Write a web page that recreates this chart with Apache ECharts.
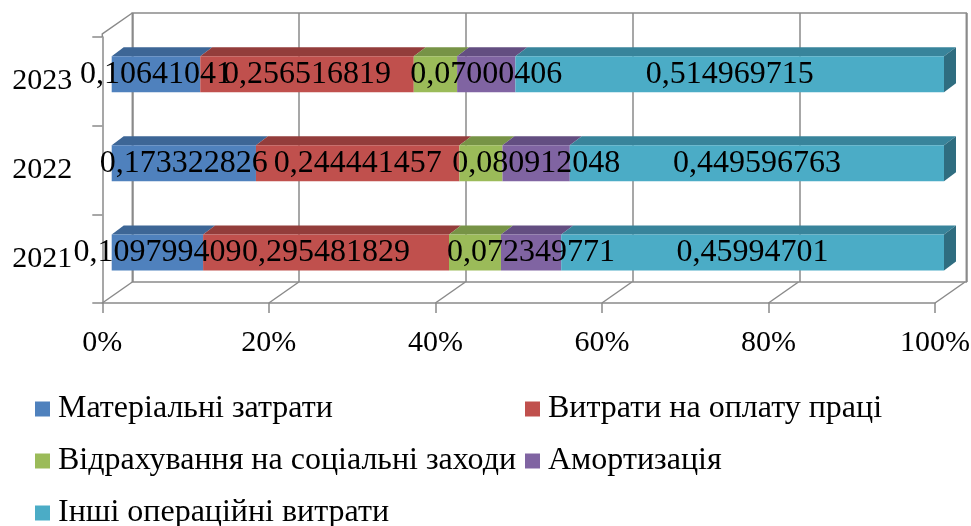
<!DOCTYPE html>
<html>
<head>
<meta charset="utf-8">
<script src="https://cdn.jsdelivr.net/npm/echarts@6/dist/echarts.min.js"></script>
<style>
  html, body { margin: 0; padding: 0; background: #ffffff; }
  #chart { width: 971px; height: 526px; }
</style>
</head>
<body>
<div id="chart"></div>
<script>
// Cost structure by year (shares of total operating costs)
const years = ['2021', '2022', '2023'];
const seriesNames = [
  'Матеріальні затрати',
  'Витрати на оплату праці',
  'Відрахування на соціальні заходи',
  'Амортизація',
  'Інші операційні витрати'
];
const materialCosts = [0.109799409, 0.173322826, 0.10641041];
const labourCosts = [0.295481829, 0.244441457, 0.256516819];
const socialContributions = [0.062421981, 0.051726906, 0.052098996];
const depreciation = [0.072349771, 0.080912048, 0.07000406];
const otherCosts = [0.45994701, 0.449596763, 0.514969715];
const tickLabels = ['0%', '20%', '40%', '60%', '80%', '100%'];
const tickValues = [0, 0.2, 0.4, 0.6, 0.8, 1];

const seriesValues = [materialCosts, labourCosts, socialContributions, depreciation, otherCosts];
const showLabel = [true, true, false, true, true];

const frontColors = ['#4F81BD', '#C0504D', '#9BBB59', '#8064A2', '#4BACC6'];
const topColors = ['#3D6696', '#933D3B', '#779346', '#634E81', '#38849B'];
const sideColor = '#2F6D80';
const lineColor = '#8A8A8A';
const FONT = 'Liberation Serif';

const BAR_W = 36;             // bar front face thickness
const BAR_DEPTH = [12, -9];   // bar top face offset
const ROOM_DEPTH = [30, -21]; // floor/back wall offset

// Stacked segments (start, end, category, segment) for the 3D top faces
const segments = [];
years.forEach((y, i) => {
  let acc = 0;
  seriesValues.forEach((arr, s) => {
    segments.push([acc, acc + arr[i], i, s]);
    acc += arr[i];
  });
});

const chart = echarts.init(document.getElementById('chart'), null, { renderer: 'canvas' });

const fmt = v => String(v).replace('.', ',');

const barSeries = seriesNames.map((name, s) => ({
  name: name,
  type: 'bar',
  stack: 'total',
  xAxisIndex: 2,
  yAxisIndex: 2,
  barWidth: BAR_W,
  itemStyle: { color: frontColors[s] },
  label: {
    show: showLabel[s],
    position: 'inside',
    formatter: p => fmt(p.value),
    color: '#000',
    fontFamily: FONT,
    fontSize: 32,
    textBorderWidth: 0
  },
  emphasis: { disabled: true },
  z: 3,
  data: seriesValues[s]
}));

const legendBase = {
  orient: 'vertical', top: 393, padding: 0,
  icon: 'rect', itemWidth: 15, itemHeight: 15, itemGap: 20,
  selectedMode: false,
  textStyle: { color: '#000', fontFamily: FONT, fontSize: 32, lineHeight: 32, padding: [0, 0, 0, 3] }
};

const option = {
  backgroundColor: '#ffffff',
  animation: false,
  grid: [
    // front plane of the floor (axes and labels)
    { left: 102.3, top: 37, width: 832.7, height: 266, outerBoundsMode: 'none' },
    // back wall
    { left: 132.3, top: 13, width: 834, height: 269, show: true,
      borderColor: lineColor, borderWidth: 1.5, backgroundColor: 'transparent', outerBoundsMode: 'none' },
    // plane of the bar front faces
    { left: 111.7, top: 29.6, width: 832.3, height: 267.5, outerBoundsMode: 'none' }
  ],
  xAxis: [
    {
      gridIndex: 0, type: 'value', min: 0, max: 1, interval: 0.2,
      axisLine: { show: true, lineStyle: { color: lineColor, width: 1.5 } },
      axisTick: { show: true, length: 10, lineStyle: { color: lineColor, width: 1.5 } },
      axisLabel: {
        margin: 25, color: '#000', fontFamily: FONT, fontSize: 30,
        formatter: v => tickLabels[Math.round(v / 0.2)]
      },
      splitLine: { show: false }
    },
    {
      gridIndex: 1, type: 'value', min: 0, max: 1, interval: 0.2,
      axisLine: { show: false }, axisTick: { show: false }, axisLabel: { show: false },
      splitLine: { show: true, lineStyle: { color: lineColor, width: 1.5 } }
    },
    {
      gridIndex: 2, type: 'value', min: 0, max: 1, show: false
    }
  ],
  yAxis: [
    {
      gridIndex: 0, type: 'category', data: years,
      axisLine: { show: true, lineStyle: { color: lineColor, width: 1.5 } },
      axisTick: { show: true, length: 10, lineStyle: { color: lineColor, width: 1.5 } },
      axisLabel: { margin: 30, color: '#000', fontFamily: FONT, fontSize: 30 }
    },
    { gridIndex: 1, type: 'category', data: years, show: false },
    { gridIndex: 2, type: 'category', data: years, show: false }
  ],
  legend: [
    Object.assign({}, legendBase, {
      data: [seriesNames[0], seriesNames[2], seriesNames[4]],
      left: 35, height: 140
    }),
    Object.assign({}, legendBase, {
      data: [seriesNames[1], seriesNames[3]],
      left: 525, height: 140
    })
  ],
  series: [
    // floor diagonals and the top edge of the side wall
    {
      type: 'custom',
      xAxisIndex: 0,
      yAxisIndex: 0,
      silent: true,
      z: 1,
      data: tickValues.map(v => [v, 0]),
      renderItem: (params, api) => {
        const v = api.value(0);
        const x = api.coord([v, 0])[0];
        const cs = params.coordSys;
        const yb = cs.y + cs.height;
        const children = [{
          type: 'line',
          shape: { x1: x, y1: yb, x2: x + ROOM_DEPTH[0], y2: yb + ROOM_DEPTH[1] },
          style: { stroke: lineColor, lineWidth: 1.5 }
        }];
        if (params.dataIndex === 0) {
          children.push({
            type: 'polyline',
            shape: { points: [[x, cs.y], [x, cs.y - 3], [x + ROOM_DEPTH[0], cs.y - 3 + ROOM_DEPTH[1]]] },
            style: { stroke: lineColor, lineWidth: 1.5, fill: null }
          });
        }
        return { type: 'group', children };
      }
    },
    ...barSeries,
    // top faces of the bar segments and the right end face
    {
      type: 'custom',
      xAxisIndex: 2,
      yAxisIndex: 2,
      silent: true,
      z: 2,
      encode: { x: [0, 1], y: 2 },
      data: segments,
      renderItem: (params, api) => {
        const s0 = api.value(0), s1 = api.value(1), cat = api.value(2), seg = api.value(3);
        const a = api.coord([s0, cat]);
        const b = api.coord([s1, cat]);
        const yT = a[1] - BAR_W / 2;
        const yB = a[1] + BAR_W / 2;
        const [dx, dy] = BAR_DEPTH;
        const children = [{
          type: 'polygon',
          shape: { points: [[a[0], yT], [b[0], yT], [b[0] + dx, yT + dy], [a[0] + dx, yT + dy]] },
          style: { fill: topColors[seg] }
        }];
        if (seg === seriesValues.length - 1) {
          children.push({
            type: 'polygon',
            shape: { points: [[b[0], yT], [b[0] + dx, yT + dy], [b[0] + dx, yB + dy], [b[0], yB]] },
            style: { fill: sideColor }
          });
        }
        return { type: 'group', children };
      }
    }
  ]
};

chart.setOption(option);
</script>
</body>
</html>
